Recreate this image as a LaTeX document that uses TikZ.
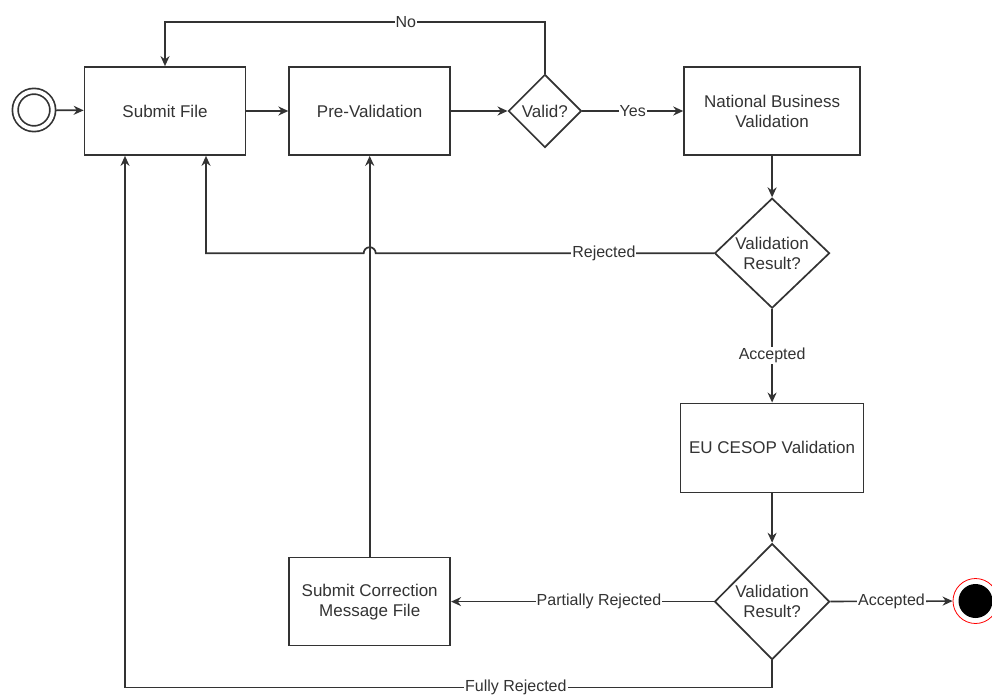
\documentclass[tikz,border=0pt]{standalone}
\usepackage{fontspec}
\setmainfont{Liberation Sans}
\usepackage{xcolor}
\usetikzlibrary{positioning, arrows.meta, shapes.geometric}
\definecolor{ink}{HTML}{333333}

\begin{document}
\begin{tikzpicture}[x=1pt, y=-1pt, >={Stealth[length=10pt,width=9pt]}, line width=1.7pt, color=ink,
  font=\fontsize{17}{20}\selectfont,
  box/.style={draw, align=center, inner sep=2pt},
  task/.style={box, minimum width=161pt, minimum height=88pt},
  gate/.style={box, diamond, aspect=1, inner sep=0pt},
  lbl/.style={fill=white, inner sep=1pt, font=\fontsize{16}{18}\selectfont},
  start/.style={circle, draw, double, double distance=4pt, minimum size=37.5pt, outer sep=3.5pt},
  stop/.style={circle, draw=red, line width=0.8pt, minimum size=45pt,
    path picture={\fill[black] (path picture bounding box.center) circle (17pt);}}]
\useasboundingbox (0,0) rectangle (992,696);
\node[start] (s) at (34,110) {};
\node[task] (sub) at (165,111) {Submit File};
\node[task, right=42pt of sub] (pre) {Pre-Validation};
\node[gate, minimum size=73pt, right=56.5pt of pre] (valid) {Valid?};
\node[task, minimum width=176pt, right=101pt of valid] (nbv) {National Business\\Validation};
\node[gate, minimum width=115pt, minimum height=110pt, below=41.5pt of nbv] (res1) {Validation\\Result?};
\node[task, minimum width=183pt, minimum height=89pt, below=93.5pt of res1] (eu) {EU CESOP Validation};
\node[gate, minimum width=115pt, minimum height=116pt, below=49.5pt of eu] (res2) {Validation\\Result?};
\node[task] (corr) at (pre |- res2) {Submit Correction\\Message File};
\node[stop] (end) at (975.5,601) {};
\draw[->] (s) -- (sub);
\draw[->] (sub) -- (pre);
\draw[->] (pre) -- (valid);
\draw[->] (valid) -- node[lbl]{Yes} (nbv);
\draw[->] (valid.north) -- ++(0,-52) -| node[lbl, pos=0.183]{No} (sub.north);
\draw[->] (nbv) -- (res1);
\draw[->] (res1.west) -- node[lbl, pos=0.325]{Rejected} ([xshift=6pt]corr.north |- res1.west)
  arc[start angle=0, end angle=180, radius=6pt] -| ([xshift=41pt]sub.south);
\draw[->] (res1) -- node[lbl]{Accepted} (eu);
\draw[->] (eu) -- (res2);
\draw[->] (res2) -- node[lbl]{Accepted} (end);
\draw[->] (res2) -- node[lbl, pos=0.437]{Partially Rejected} (corr);
\draw[->] (corr) -- (pre);
\draw[->] (res2.south) -- ++(0,27) -| node[lbl, pos=0.198]{Fully Rejected} ([xshift=-40pt]sub.south);
\end{tikzpicture}
\end{document}
